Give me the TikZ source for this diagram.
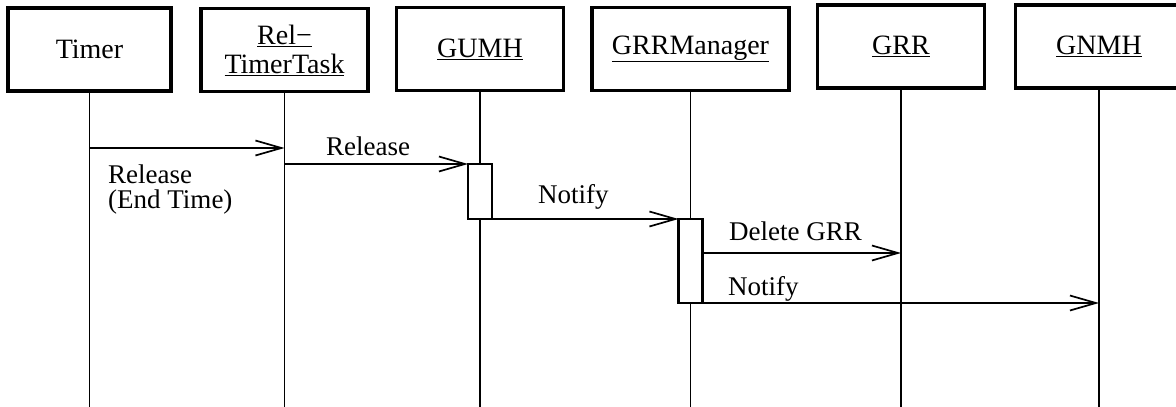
\documentclass[tikz,border=0pt]{standalone}
\usepackage{fontspec}
\setmainfont{Liberation Serif}
\usetikzlibrary{arrows.meta}
\begin{document}
\begin{tikzpicture}[x=1pt,y=-1pt,
  obj/.style={draw, line width=3.2pt, minimum height=83pt, inner sep=0pt,
    align=center, font=\fontsize{28}{29}\selectfont},
  life/.style={line width=1.5pt},
  act/.style={draw, fill=white, line width=2.8pt, minimum width=24pt,
    inner sep=0pt, outer sep=0pt},
  msg/.style={line width=1.7pt,
    -{Straight Barb[length=26pt,width=15pt,line width=1.7pt]}},
  lbl/.style={font=\fontsize{27}{25}\selectfont, inner sep=0pt, align=left}]
\useasboundingbox (0,0) rectangle (1176,407);

% participants
\node[obj, minimum width=163pt] (timer) at (89.5,49.5) {Timer};
\node[obj, minimum width=167pt] (rel)   at (284.5,50) {\underline{Rel−}\\\underline{TimerTask}};
\node[obj, minimum width=167pt] (gumh)  at (480,49) {\underline{GUMH}};
\node[obj, minimum width=197pt] (grrm)  at (690.5,49) {\underline{GRRManager}};
\node[obj, minimum width=167pt] (grr)   at (901,46.5) {\underline{GRR}};
\node[obj, minimum width=167pt] (gnmh)  at (1099,46.5) {\underline{GNMH}};

% lifelines
\foreach \p in {timer,rel,gumh,grrm,grr,gnmh}
  \draw[life] (\p.south) -- (\p.south |- 0,407);

% activations
\node[act, minimum height=55pt] (act1) at (480,191.5) {};
\node[act, minimum height=84pt] (act2) at (690.5,261) {};

% message end points on lifelines
\coordinate (t1) at (timer.south |- 0,148);
\coordinate (r1) at (rel.south |- 0,148);
\coordinate (r2) at (rel.south |- 0,164);
\coordinate (g1) at (grr.south |- 0,253);
\coordinate (a2) at (act2.east |- 0,253);
\coordinate (n1) at (gnmh.south |- 0,303);

% messages
\draw[msg] (t1) -- (r1);
\draw[msg] (r2) -- (act1.north west);
\draw[msg] (act1.south east) -- (act2.north west);
\draw[msg] (a2) -- (g1);
\draw[msg] (act2.south east) -- (n1);

% message labels
\node[lbl, anchor=north west] (l1) at (108,165) {Release\\(End Time)};
\node[lbl, anchor=base west] (l2) at (326,155) {Release};
\node[lbl, anchor=base west] (l3) at (538,203) {Notify};
\node[lbl, anchor=base west] (l4) at (729,240) {Delete GRR};
\node[lbl, anchor=base west] (l5) at (728,295) {Notify};
\end{tikzpicture}
\end{document}
